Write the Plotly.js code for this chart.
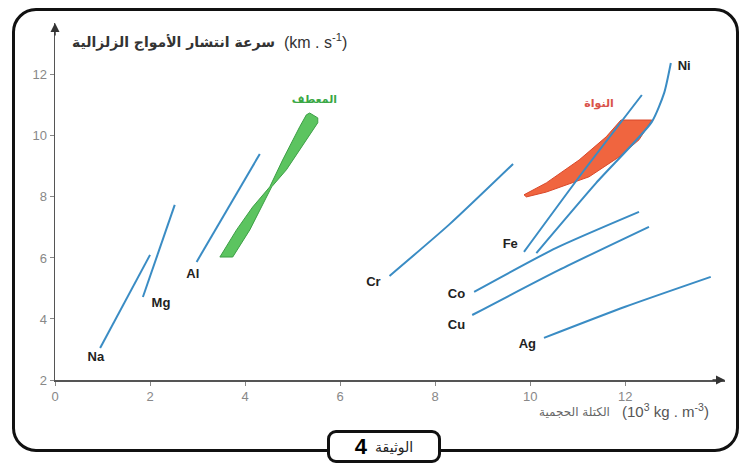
<!DOCTYPE html>
<html><head><meta charset="utf-8">
<script src="https://cdn.plot.ly/plotly-3.0.1.min.js"></script>
<style>
html,body{margin:0;padding:0;background:#fff;}
#wrap{position:relative;width:739px;height:467px;overflow:hidden;}
#chart{position:absolute;left:0;top:0;width:739px;height:467px;}
#frame{position:absolute;left:12px;top:8px;width:721px;height:438px;border:3px solid #111;border-radius:24px;pointer-events:none;}
#doc{position:absolute;left:327px;top:430px;width:108px;height:27px;border:3px solid #111;border-radius:9px;background:#fff;display:flex;align-items:center;justify-content:center;direction:ltr;font-family:"DejaVu Sans",sans-serif;}
#doc .n{font-family:"Liberation Sans",Arial,sans-serif;font-weight:bold;font-size:22px;margin-right:8px;}
#doc .t{font-size:14px;color:#222;}
</style></head>
<body>
<div id="wrap">
<div id="chart"></div>
<div id="frame"></div>
<div id="doc"><span class="n">4</span><span class="t">الوثيقة</span></div>
</div>
<script>
// Metal lines (density 10^3 kg/m^3, velocity km/s)
const naX = [0.95, 2.0],  naY = [3.05, 6.1];
const mgX = [1.85, 2.52], mgY = [4.72, 7.74];
const alX = [2.98, 4.31], alY = [5.87, 9.41];
const crX = [7.04, 8.3, 9.64], crY = [5.41, 7.1, 9.08];
const feX = [9.87, 11.1, 12.35], feY = [6.2, 8.8, 11.34];
const niX = [10.13, 11.39, 12.56, 12.82, 12.96], niY = [6.16, 8.46, 10.46, 11.41, 12.39];
const coX = [8.82, 10.55, 12.29], coY = [4.89, 6.33, 7.51];
const cuX = [8.78, 10.6, 12.5], cuY = [4.13, 5.6, 7.02];
const agX = [10.29, 12.0, 13.8], agY = [3.38, 4.4, 5.38];

// Mantle (green) and core (red) regions
const mantleX = [3.47, 3.74, 4.10, 4.35, 4.56, 4.87, 5.29, 5.53, 5.53, 5.36, 5.29, 5.15, 4.79, 4.52, 4.16, 3.82, 3.47];
const mantleY = [6.03, 6.03, 6.92, 7.67, 8.33, 8.89, 9.87, 10.43, 10.59, 10.75, 10.69, 10.30, 9.21, 8.33, 7.67, 6.92, 6.03];
const coreX = [9.87, 10.34, 11.03, 11.60, 11.91, 12.56, 12.29, 11.87, 11.24, 10.34, 9.92, 9.87];
const coreY = [8.07, 8.46, 9.21, 9.97, 10.52, 10.52, 9.87, 9.31, 8.66, 8.16, 8.00, 8.07];

// Labels
const metalNames = ['Na','Mg','Al','Cr','Fe','Co','Cu','Ag','Ni'];
const metalLabelX = [0.86, 2.23, 2.9, 6.7, 9.58, 8.45, 8.45, 9.94, 13.24];
const metalLabelY = [2.72, 4.49, 5.44, 5.18, 6.43, 4.79, 3.77, 3.15, 12.26];
const regionNames = ['المعطف', 'النواة'];
const regionLabelX = [5.46, 11.45];
const regionLabelY = [11.18, 11.05];
const regionColors = ['#3aa845', '#d9534a'];

const xTicks = [0, 2, 4, 6, 8, 10, 12];
const yTicks = [2, 4, 6, 8, 10, 12];

const blue = '#3a8cc4';
const lineSets = [[naX,naY],[mgX,mgY],[alX,alY],[crX,crY],[feX,feY],[niX,niY],[coX,coY],[cuX,cuY],[agX,agY]];
const traces = [];
traces.push({x: mantleX, y: mantleY, mode:'lines', fill:'toself', fillcolor:'#5cc460', line:{color:'#3c9e45', width:1}, hoverinfo:'skip'});
traces.push({x: coreX, y: coreY, mode:'lines', fill:'toself', fillcolor:'#f0653f', line:{color:'#d9482a', width:1}, hoverinfo:'skip'});
lineSets.forEach(([xs, ys]) => {
  traces.push({x: xs, y: ys, mode:'lines', line:{color: blue, width:2, shape:'spline', smoothing:0.6}, hoverinfo:'skip'});
});
traces.push({x: metalLabelX, y: metalLabelY, mode:'text', text: metalNames.map(n => '<b>'+n+'</b>'),
  textfont:{family:'Liberation Sans, Arial, sans-serif', size:13, color:'#222'}, textposition:'middle center', hoverinfo:'skip'});
traces.push({x: regionLabelX, y: regionLabelY, mode:'text', text: regionNames.map(n => '<b>'+n+'</b>'),
  textfont:{family:'DejaVu Sans, sans-serif', size:11, color: regionColors}, textposition:'middle center', hoverinfo:'skip'});

const axisCommon = {showline:true, linecolor:'#555', linewidth:1.5, ticks:'outside', ticklen:4, tickcolor:'#888',
  tickfont:{family:'Liberation Sans, Arial, sans-serif', size:13, color:'#888'}, showgrid:false, zeroline:false, fixedrange:true};

const layout = {
  width:739, height:467,
  margin:{l:55, r:14, t:23, b:87},
  paper_bgcolor:'rgba(0,0,0,0)', plot_bgcolor:'rgba(0,0,0,0)',
  showlegend:false,
  xaxis: Object.assign({range:[0, 14.1], tickvals:xTicks}, axisCommon),
  yaxis: Object.assign({range:[2, 13.7], tickvals:yTicks}, axisCommon),
  annotations:[
    {x:14.1, y:2, xref:'x', yref:'y', ax:-14, ay:0, showarrow:true, arrowhead:2, arrowsize:1.2, arrowwidth:1.5, arrowcolor:'#333', text:''},
    {x:0, y:13.7, xref:'x', yref:'y', ax:0, ay:14, showarrow:true, arrowhead:2, arrowsize:1.2, arrowwidth:1.5, arrowcolor:'#333', text:''},
    {x:(277-55)/670, y:(380-42)/357, xref:'paper', yref:'paper', xanchor:'right', yanchor:'middle', showarrow:false,
     text:'<b>سرعة انتشار الأمواج الزلزالية</b>', font:{family:'DejaVu Sans, sans-serif', size:14, color:'#333'}},
    {x:(282-55)/670, y:(380-41)/357, xref:'paper', yref:'paper', xanchor:'left', yanchor:'middle', showarrow:false,
     text:'(km . s<sup>-1</sup>)', font:{family:'Liberation Sans, Arial, sans-serif', size:16, color:'#333'}},
    {x:(612-55)/670, y:(380-412)/357, xref:'paper', yref:'paper', xanchor:'right', yanchor:'middle', showarrow:false,
     text:'الكتلة الحجمية', font:{family:'DejaVu Sans, sans-serif', size:12, color:'#666'}},
    {x:(620-55)/670, y:(380-411)/357, xref:'paper', yref:'paper', xanchor:'left', yanchor:'middle', showarrow:false,
     text:'(10<sup>3</sup> kg . m<sup>-3</sup>)', font:{family:'Liberation Sans, Arial, sans-serif', size:15, color:'#555'}}
  ]
};
Plotly.newPlot('chart', traces, layout, {displayModeBar:false, staticPlot:true});
</script>
</body></html>
